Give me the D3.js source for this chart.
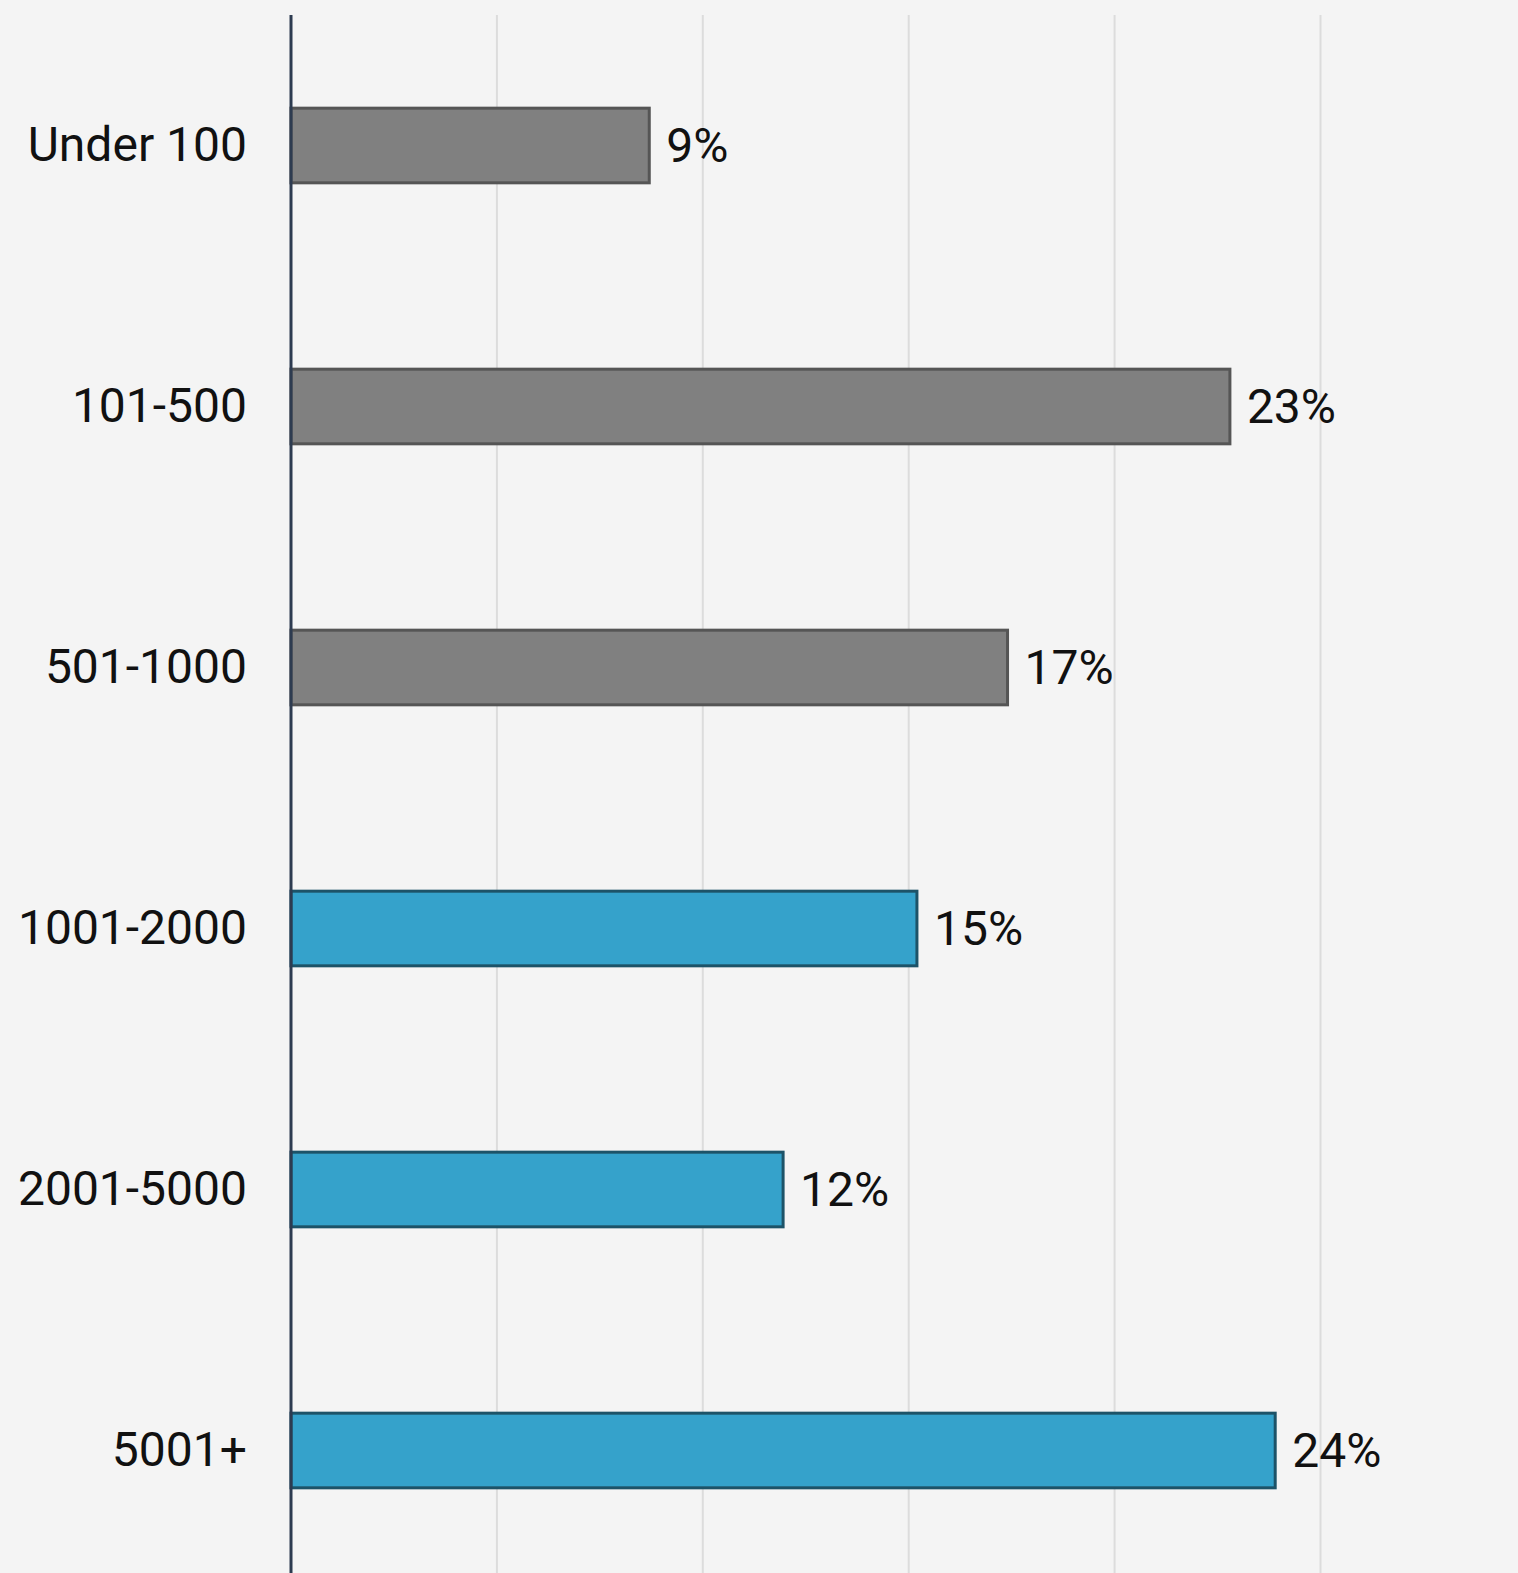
<!DOCTYPE html>
<html>
<head>
<meta charset="utf-8">
<script src="https://cdn.jsdelivr.net/npm/d3@7"></script>
<style>
  html, body { margin: 0; padding: 0; background: #f4f4f4; }
  svg { display: block; }
  text { font-family: Roboto, "Noto Sans", sans-serif; fill: #111; }
</style>
</head>
<body>
<div id="chart"></div>
<script>
// Data
const categories = ["Under 100", "101-500", "501-1000", "1001-2000", "2001-5000", "5001+"];
const values = [8.7, 22.8, 17.4, 15.2, 11.95, 23.9];
const valueLabels = ["9%", "23%", "17%", "15%", "12%", "24%"];
const groups = ["gray", "gray", "gray", "blue", "blue", "blue"];
const gridTicks = [5, 10, 15, 20, 25];

const W = 1518, H = 1573;
const marginLeft = 291, marginTop = 15;

const svg = d3.select("#chart").append("svg")
  .attr("width", W).attr("height", H);

svg.append("rect").attr("width", W).attr("height", H).attr("fill", "#f4f4f4");

const x = d3.scaleLinear().domain([0, 25]).range([marginLeft, 1320.5]);
const y = d3.scaleBand().domain(categories).range([marginTop, marginTop + 261 * 6])
  .paddingInner(0.714).paddingOuter(0.357);

const fills = { gray: "#808080", blue: "#35a2cb" };
const strokes = { gray: "#555555", blue: "#1d5368" };

// Gridlines
svg.append("g").selectAll("line").data(gridTicks).join("line")
  .attr("x1", d => x(d)).attr("x2", d => x(d))
  .attr("y1", marginTop).attr("y2", H)
  .attr("stroke", "#dcdcdc").attr("stroke-width", 2);

const data = categories.map((c, i) => ({ c, v: values[i], label: valueLabels[i], g: groups[i] }));

// Bars
svg.append("g").selectAll("rect").data(data).join("rect")
  .attr("x", x(0))
  .attr("y", d => y(d.c))
  .attr("width", d => x(d.v) - x(0))
  .attr("height", y.bandwidth())
  .attr("fill", d => fills[d.g])
  .attr("stroke", d => strokes[d.g])
  .attr("stroke-width", 3);

// Value labels
svg.append("g").selectAll("text").data(data).join("text")
  .attr("x", d => x(d.v) + 17)
  .attr("y", d => y(d.c) + y.bandwidth() / 2)
  .attr("dy", "0.35em")
  .attr("font-size", 48)
  .text(d => d.label);

// Y axis
const yAxis = d3.axisLeft(y).tickSize(0).tickPadding(44);
const gy = svg.append("g").attr("transform", `translate(${marginLeft},0)`).call(yAxis);
gy.select(".domain").remove();
gy.selectAll("text").attr("font-size", 48).attr("fill", "#111")
  .style("font-family", "Roboto, 'Noto Sans', sans-serif");

svg.append("line")
  .attr("x1", marginLeft).attr("x2", marginLeft)
  .attr("y1", marginTop).attr("y2", H)
  .attr("stroke", "#2d3b50").attr("stroke-width", 3);
</script>
</body>
</html>
